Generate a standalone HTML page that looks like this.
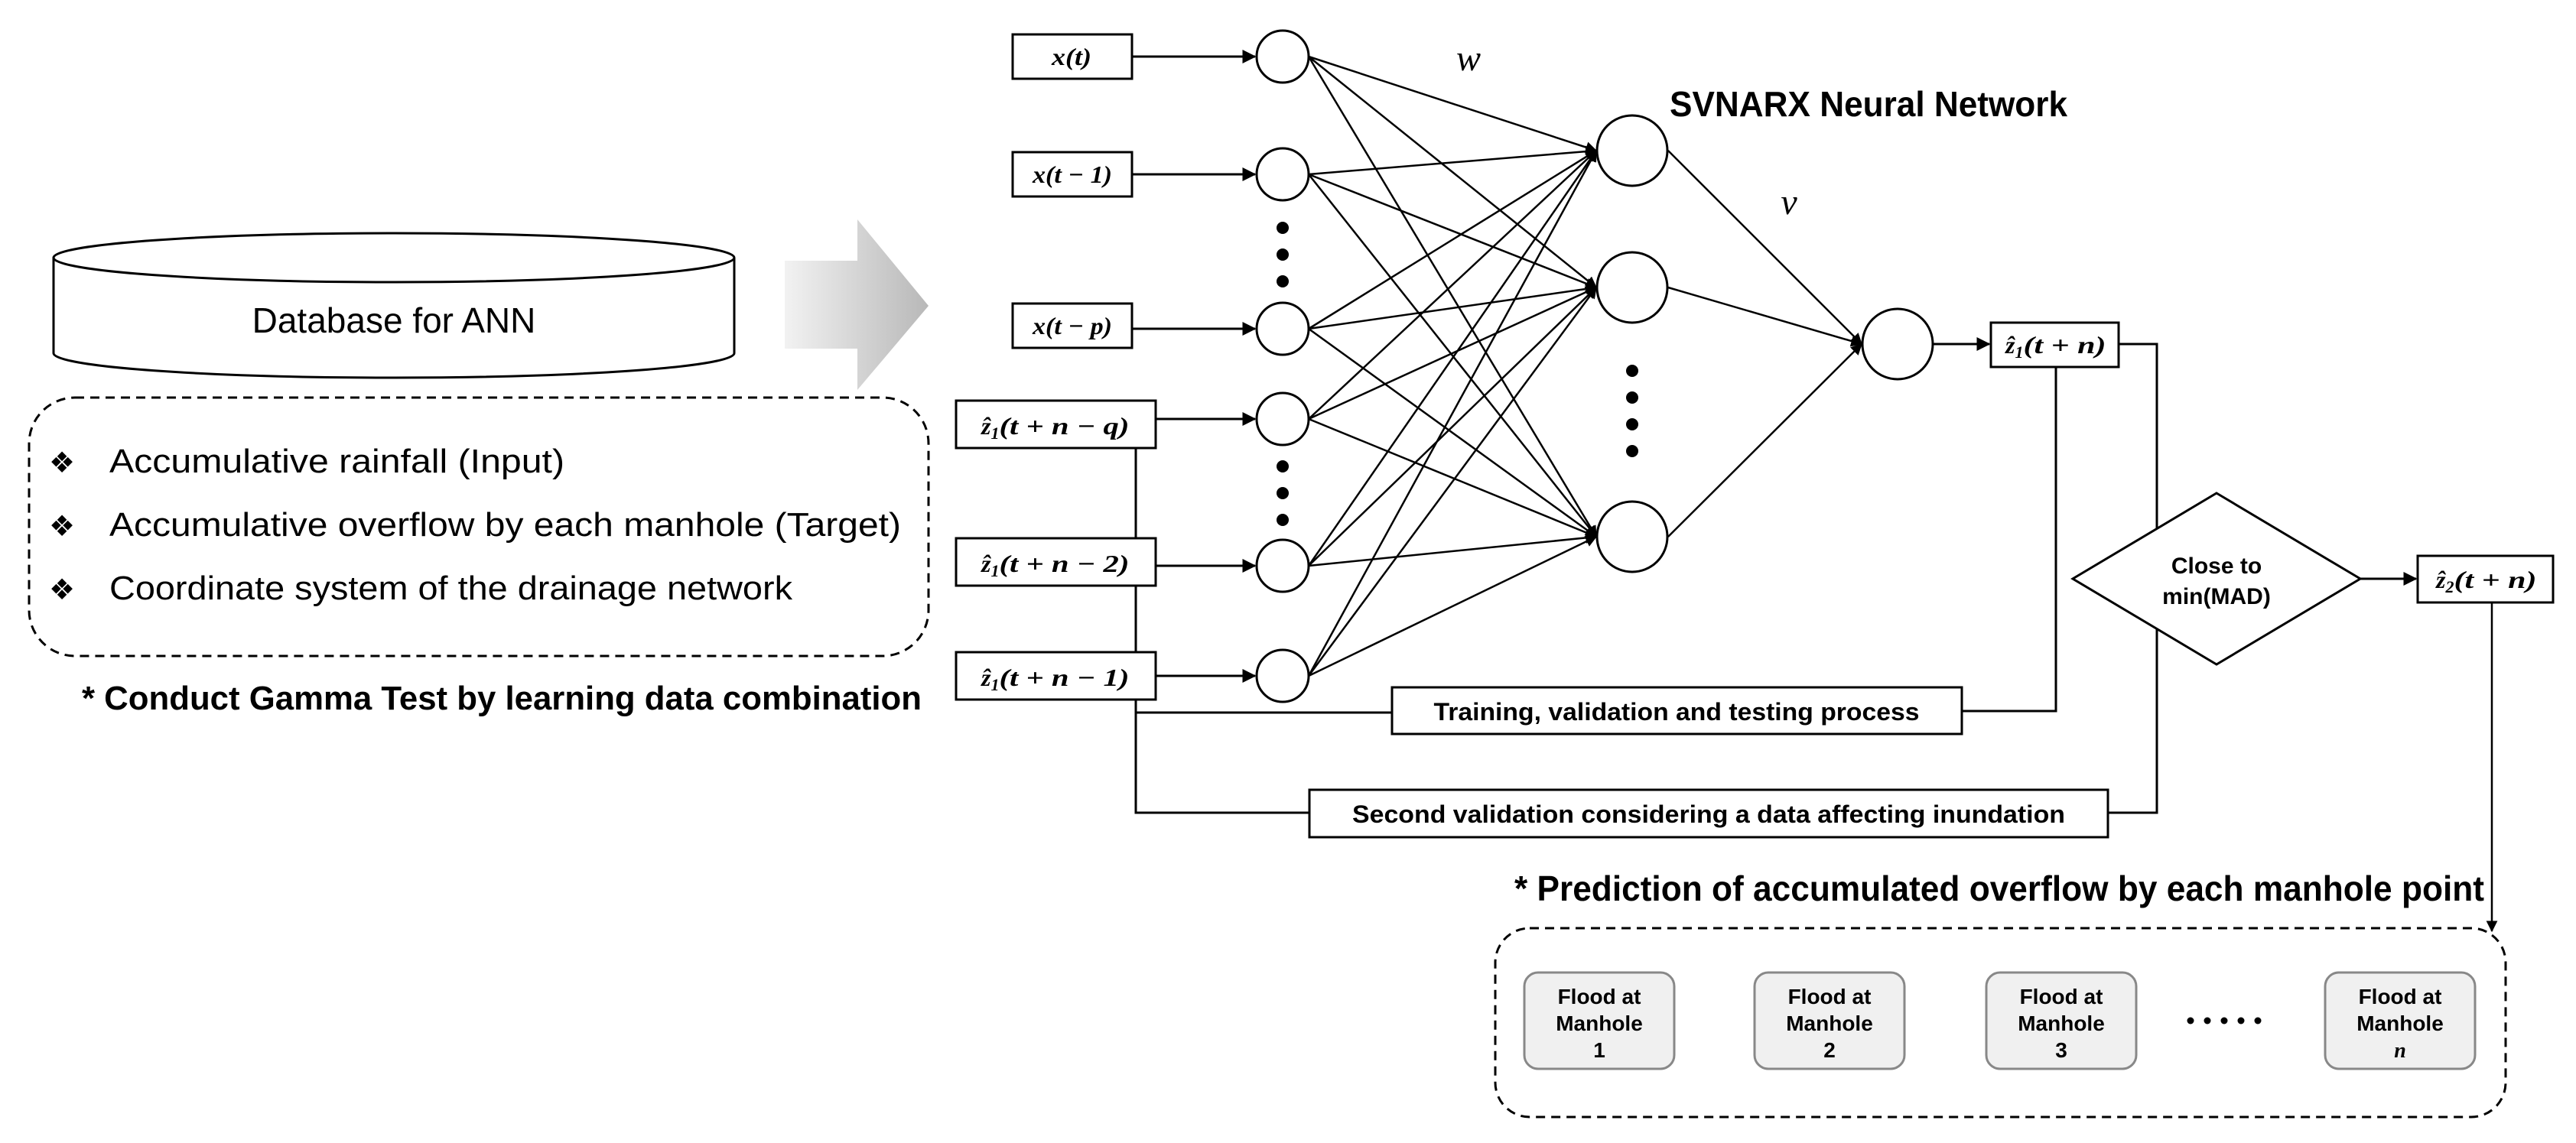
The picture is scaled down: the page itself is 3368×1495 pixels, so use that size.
<!DOCTYPE html>
<html><head><meta charset="utf-8"><style>html,body{margin:0;padding:0;background:#fff}svg{display:block}</style></head>
<body>
<svg width="3368" height="1495" viewBox="0 0 3368 1495" xmlns="http://www.w3.org/2000/svg">
<defs>
<marker id="ah" markerWidth="6" markerHeight="6" refX="5.5" refY="3" orient="auto" markerUnits="strokeWidth"><path d="M0,0 L6,3 L0,6 z" fill="#000"/></marker>
<linearGradient id="gg" x1="0" x2="1" y1="0" y2="0"><stop offset="0" stop-color="#f2f2f2"/><stop offset="1" stop-color="#b8b8b8"/></linearGradient>
</defs>
<style>
.s{font-family:"Liberation Sans",sans-serif}
.m{font-family:"Liberation Serif",serif;font-weight:bold;font-style:italic}
</style>

<!-- cylinder -->
<path d="M70,337 L70,462 A445,32 0 0 0 960,462 L960,337" fill="#fff" stroke="#000" stroke-width="3"/>
<ellipse cx="515" cy="337" rx="445" ry="32" fill="#fff" stroke="#000" stroke-width="3"/>
<text x="515" y="435" class="s" font-size="46" text-anchor="middle">Database for ANN</text>

<!-- big arrow -->
<path d="M1026,341 L1121,341 L1121,287 L1214,400 L1121,510 L1121,456 L1026,456 z" fill="url(#gg)"/>

<!-- left dashed box -->
<rect x="38" y="520" width="1176" height="338" rx="60" fill="none" stroke="#000" stroke-width="3" stroke-dasharray="12,8"/>
<g class="s" font-size="44">
<text x="64" y="618" font-size="38">❖</text><text x="143" y="618" textLength="595" lengthAdjust="spacingAndGlyphs">Accumulative rainfall (Input)</text>
<text x="64" y="701" font-size="38">❖</text><text x="143" y="701" textLength="1035" lengthAdjust="spacingAndGlyphs">Accumulative overflow by each manhole (Target)</text>
<text x="64" y="784" font-size="38">❖</text><text x="143" y="784" textLength="893" lengthAdjust="spacingAndGlyphs">Coordinate system of the drainage network</text>
</g>
<text x="107" y="928" class="s" font-size="44" font-weight="bold" textLength="1098" lengthAdjust="spacingAndGlyphs">* Conduct Gamma Test by learning data combination</text>

<!-- input boxes -->
<g fill="#fff" stroke="#000" stroke-width="3">
<rect x="1324" y="45" width="156" height="58"/>
<rect x="1324" y="199" width="156" height="58"/>
<rect x="1324" y="397" width="156" height="58"/>
<rect x="1250" y="524" width="261" height="62"/>
<rect x="1250" y="704" width="261" height="62"/>
<rect x="1250" y="853" width="261" height="62"/>
</g>
<g class="m" font-size="32">
<text x="1375" y="85" textLength="52" lengthAdjust="spacingAndGlyphs">x(t)</text>
<text x="1350" y="239" textLength="104" lengthAdjust="spacingAndGlyphs">x(t − 1)</text>
<text x="1350" y="437" textLength="104" lengthAdjust="spacingAndGlyphs">x(t − p)</text>
<text x="1283" y="568">ẑ<tspan font-size="22" dy="6">1</tspan><tspan dy="-6" textLength="170" lengthAdjust="spacingAndGlyphs">(t + n − q)</tspan></text>
<text x="1283" y="748">ẑ<tspan font-size="22" dy="6">1</tspan><tspan dy="-6" textLength="170" lengthAdjust="spacingAndGlyphs">(t + n − 2)</tspan></text>
<text x="1283" y="897">ẑ<tspan font-size="22" dy="6">1</tspan><tspan dy="-6" textLength="170" lengthAdjust="spacingAndGlyphs">(t + n − 1)</tspan></text>
</g>

<!-- connections -->
<g stroke="#000" stroke-width="3" fill="none">
<line x1="1480" y1="74" x2="1641" y2="74" marker-end="url(#ah)"/>
<line x1="1480" y1="228" x2="1641" y2="228" marker-end="url(#ah)"/>
<line x1="1480" y1="430" x2="1641" y2="430" marker-end="url(#ah)"/>
<line x1="1511" y1="548" x2="1641" y2="548" marker-end="url(#ah)"/>
<line x1="1511" y1="740" x2="1641" y2="740" marker-end="url(#ah)"/>
<line x1="1511" y1="884" x2="1641" y2="884" marker-end="url(#ah)"/>
<polyline points="1485,586 1485,704"/>
<polyline points="1485,766 1485,853"/>
<polyline points="1485,915 1485,1063 1712,1063"/>
<line x1="1485" y1="932" x2="1820" y2="932"/>
<polyline points="2565,930 2688,930 2688,480"/>
<polyline points="2770,450 2820,450 2820,1063 2756,1063"/>
</g>
<g stroke="#000" stroke-width="2.5" fill="none">
<line x1="1711" y1="74" x2="2087" y2="197" marker-end="url(#ah)"/>
<line x1="1711" y1="74" x2="2087" y2="376" marker-end="url(#ah)"/>
<line x1="1711" y1="74" x2="2087" y2="702" marker-end="url(#ah)"/>
<line x1="1711" y1="228" x2="2087" y2="197" marker-end="url(#ah)"/>
<line x1="1711" y1="228" x2="2087" y2="376" marker-end="url(#ah)"/>
<line x1="1711" y1="228" x2="2087" y2="702" marker-end="url(#ah)"/>
<line x1="1711" y1="430" x2="2087" y2="197" marker-end="url(#ah)"/>
<line x1="1711" y1="430" x2="2087" y2="376" marker-end="url(#ah)"/>
<line x1="1711" y1="430" x2="2087" y2="702" marker-end="url(#ah)"/>
<line x1="1711" y1="548" x2="2087" y2="197" marker-end="url(#ah)"/>
<line x1="1711" y1="548" x2="2087" y2="376" marker-end="url(#ah)"/>
<line x1="1711" y1="548" x2="2087" y2="702" marker-end="url(#ah)"/>
<line x1="1711" y1="740" x2="2087" y2="197" marker-end="url(#ah)"/>
<line x1="1711" y1="740" x2="2087" y2="376" marker-end="url(#ah)"/>
<line x1="1711" y1="740" x2="2087" y2="702" marker-end="url(#ah)"/>
<line x1="1711" y1="884" x2="2087" y2="197" marker-end="url(#ah)"/>
<line x1="1711" y1="884" x2="2087" y2="376" marker-end="url(#ah)"/>
<line x1="1711" y1="884" x2="2087" y2="702" marker-end="url(#ah)"/>
<line x1="2181" y1="197" x2="2434" y2="450" marker-end="url(#ah)"/>
<line x1="2181" y1="376" x2="2434" y2="450" marker-end="url(#ah)"/>
<line x1="2181" y1="702" x2="2434" y2="450" marker-end="url(#ah)"/>
</g>
<g stroke="#000" stroke-width="3">
<line x1="2528" y1="450" x2="2601" y2="450" marker-end="url(#ah)"/>
<line x1="3086" y1="757" x2="3159" y2="757" marker-end="url(#ah)"/>
<line x1="3258" y1="788" x2="3258" y2="1218" stroke-width="2.5" marker-end="url(#ah)"/>
</g>

<!-- circles -->
<g fill="#fff" stroke="#000" stroke-width="3">
<circle cx="1677" cy="74" r="34"/><circle cx="1677" cy="228" r="34"/><circle cx="1677" cy="430" r="34"/>
<circle cx="1677" cy="548" r="34"/><circle cx="1677" cy="740" r="34"/><circle cx="1677" cy="884" r="34"/>
<circle cx="2134" cy="197" r="46"/><circle cx="2134" cy="376" r="46"/><circle cx="2134" cy="702" r="46"/>
<circle cx="2481" cy="450" r="46"/>
</g>
<g fill="#000">
<circle cx="1677" cy="298" r="8"/><circle cx="1677" cy="333" r="8"/><circle cx="1677" cy="368" r="8"/>
<circle cx="1677" cy="610" r="8"/><circle cx="1677" cy="645" r="8"/><circle cx="1677" cy="680" r="8"/>
<circle cx="2134" cy="485" r="8"/><circle cx="2134" cy="520" r="8"/><circle cx="2134" cy="555" r="8"/><circle cx="2134" cy="590" r="8"/>
</g>
<text x="1920" y="92" font-family="Liberation Serif,serif" font-style="italic" font-size="48" text-anchor="middle">w</text>
<text x="2339" y="280" font-family="Liberation Serif,serif" font-style="italic" font-size="48" text-anchor="middle">v</text>
<text x="2183" y="152" class="s" font-size="46" font-weight="bold" textLength="520" lengthAdjust="spacingAndGlyphs">SVNARX Neural Network</text>

<!-- output boxes -->
<g fill="#fff" stroke="#000" stroke-width="3">
<rect x="2603" y="422" width="167" height="58"/>
<rect x="3161" y="727" width="177" height="61"/>
<polygon points="2898,645 3086,757 2898,869 2710,757"/>
<rect x="1820" y="899" width="745" height="61"/>
<rect x="1712" y="1033" width="1044" height="62"/>
</g>
<g class="m" font-size="32">
<text x="2622" y="462">ẑ<tspan font-size="22" dy="6">1</tspan><tspan dy="-6" textLength="108" lengthAdjust="spacingAndGlyphs">(t + n)</tspan></text>
<text x="3185" y="769">ẑ<tspan font-size="22" dy="6">2</tspan><tspan dy="-6" textLength="108" lengthAdjust="spacingAndGlyphs">(t + n)</tspan></text>
</g>
<g class="s" font-weight="bold" text-anchor="middle">
<text x="2898" y="750" font-size="30">Close to</text>
<text x="2898" y="790" font-size="30">min(MAD)</text>
<text x="2192" y="942" font-size="32" textLength="635" lengthAdjust="spacingAndGlyphs">Training, validation and testing process</text>
<text x="2234" y="1076" font-size="32" textLength="932" lengthAdjust="spacingAndGlyphs">Second validation considering a data affecting inundation</text>
</g>
<text x="1980" y="1178" class="s" font-size="46" font-weight="bold" textLength="1268" lengthAdjust="spacingAndGlyphs">* Prediction of accumulated overflow by each manhole point</text>

<rect x="1955" y="1214" width="1321" height="247" rx="45" fill="none" stroke="#000" stroke-width="3" stroke-dasharray="12,8"/>
<g fill="#f0f0f0" stroke="#888" stroke-width="3">
<rect x="1993" y="1272" width="196" height="126" rx="18"/>
<rect x="2294" y="1272" width="196" height="126" rx="18"/>
<rect x="2597" y="1272" width="196" height="126" rx="18"/>
<rect x="3040" y="1272" width="196" height="126" rx="18"/>
</g>
<g class="s" font-weight="bold" font-size="28" text-anchor="middle">
<text x="2091" y="1313">Flood at</text><text x="2091" y="1348">Manhole</text><text x="2091" y="1383">1</text>
<text x="2392" y="1313">Flood at</text><text x="2392" y="1348">Manhole</text><text x="2392" y="1383">2</text>
<text x="2695" y="1313">Flood at</text><text x="2695" y="1348">Manhole</text><text x="2695" y="1383">3</text>
<text x="3138" y="1313">Flood at</text><text x="3138" y="1348">Manhole</text><text x="3138" y="1383" font-family="Liberation Serif,serif" font-style="italic">n</text>
</g>
<g fill="#000"><circle cx="2864" cy="1335" r="4.5"/><circle cx="2886" cy="1335" r="4.5"/><circle cx="2908" cy="1335" r="4.5"/><circle cx="2930" cy="1335" r="4.5"/><circle cx="2952" cy="1335" r="4.5"/></g>
</svg>
</body></html>
